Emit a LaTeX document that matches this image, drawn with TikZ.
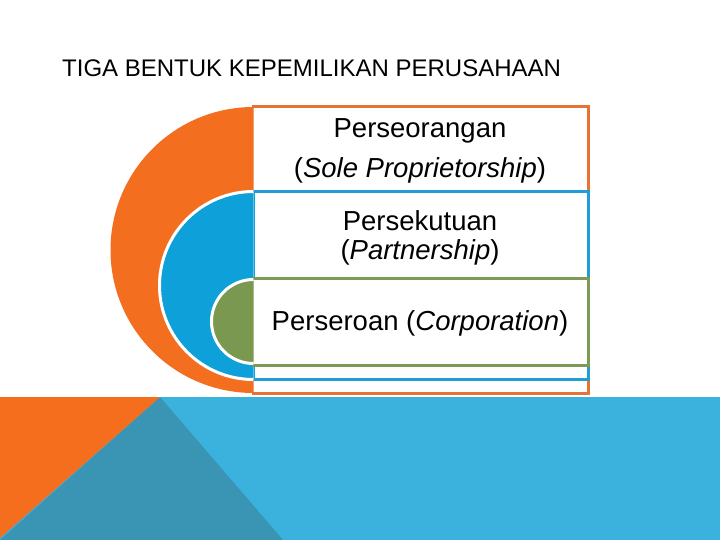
\documentclass[tikz,border=0pt]{standalone}
\usepackage{fontspec}
\setmainfont{Liberation Sans}
\definecolor{orFill}{RGB}{244,110,32}
\definecolor{orLine}{RGB}{229,115,52}
\definecolor{blFill}{RGB}{14,160,216}
\definecolor{blLine}{RGB}{32,156,214}
\definecolor{grFill}{RGB}{122,152,80}
\definecolor{grLine}{RGB}{125,155,85}
\definecolor{bandBlue}{RGB}{59,177,222}
\definecolor{bandTeal}{RGB}{58,148,180}
\definecolor{bandOr}{RGB}{245,110,30}
\tikzset{
  boxline/.style={line width=3pt},
  ring/.style={draw=white,line width=3pt},
  bodytext/.style={font=\fontsize{27.5}{33}\selectfont,inner sep=0pt,anchor=base},
}
\begin{document}
\begin{tikzpicture}[x=1pt,y=-1pt]
\useasboundingbox (0,0) rectangle (720,540);
\fill[white] (0,0) rectangle (720,540);
% title
\node[anchor=base west,inner sep=0pt,font=\fontsize{24}{28}\selectfont] (title) at (62,77)
  {TIGA BENTUK KEPEMILIKAN PERUSAHAAN};
% bottom band
\fill[bandBlue] (0,397) rectangle (720,540);
\fill[bandTeal] (160,397) -- (283,540) -- (0,540) -- cycle;
\fill[bandOr] (0,397) -- (160,397) -- (0,538) -- cycle;
% orange level
\fill[white] (252,107) rectangle (588,393);
\draw[boxline,orLine] (252,107) -- (588,107) -- (588,393) -- (252,393);
\fill[orFill] (253.5,107) arc[start angle=270,end angle=90,radius=143] -- cycle;
% blue level
\fill[white] (252,192) rectangle (588,379);
\draw[boxline,blLine] (252,192) -- (588,192) -- (588,379) -- (252,379);
\filldraw[fill=blFill,ring] (253.5,191.5) arc[start angle=270,end angle=90,radius=94];
\fill[blFill] (253.5,193) rectangle (255,378);
% green level
\fill[white] (252,278) rectangle (588,365);
\draw[boxline,grLine] (252,278) -- (588,278) -- (588,365) -- (252,365);
\filldraw[fill=grFill,ring] (253.5,279.5) arc[start angle=270,end angle=90,radius=42];
% texts
\node[bodytext] (t1a) at (420,138) {Perseorangan};
\node[bodytext] (t1b) at (420,178) {(\textit{Sole Proprietorship})};
\node[bodytext] (t2a) at (420,230) {Persekutuan};
\node[bodytext] (t2b) at (420,259) {(\textit{Partnership})};
\node[bodytext] (t3) at (420,330) {Perseroan (\textit{Corporation})};
\end{tikzpicture}
\end{document}
